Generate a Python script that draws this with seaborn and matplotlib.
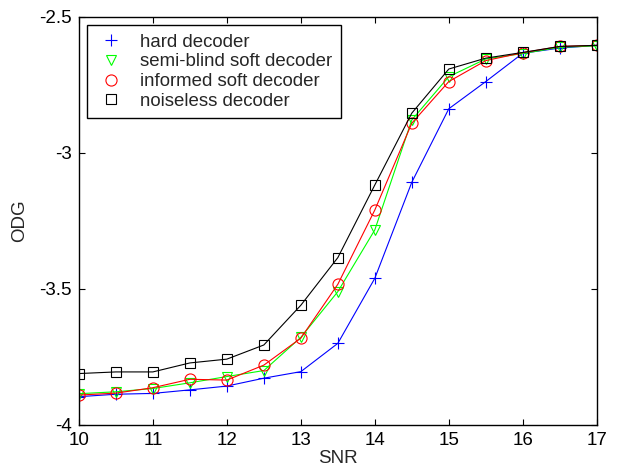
import matplotlib
matplotlib.use("Agg")
import matplotlib.pyplot as plt
import pandas as pd
import seaborn as sns
from matplotlib.lines import Line2D

# SNR values
snr = [10, 10.5, 11, 11.5, 12, 12.5, 13, 13.5, 14, 14.5, 15, 15.5, 16, 16.5, 17]

# ODG per decoder
hard = [-3.896, -3.887, -3.884, -3.871, -3.857, -3.828, -3.804, -3.700, -3.461,
        -3.108, -2.838, -2.738, -2.634, -2.615, -2.605]
semi_blind = [-3.885, -3.878, -3.866, -3.845, -3.822, -3.800, -3.678, -3.510, -3.283,
              -2.879, -2.720, -2.655, -2.635, -2.612, -2.607]
informed = [-3.890, -3.883, -3.863, -3.832, -3.835, -3.780, -3.681, -3.483, -3.210,
            -2.891, -2.738, -2.661, -2.632, -2.609, -2.605]
noiseless = [-3.811, -3.805, -3.805, -3.772, -3.758, -3.706, -3.560, -3.385, -3.118,
             -2.854, -2.692, -2.652, -2.631, -2.609, -2.605]

labels = ["hard decoder", "semi-blind soft decoder", "informed soft decoder", "noiseless decoder"]
series = [hard, semi_blind, informed, noiseless]
colors = ["#0000ff", "#00ff00", "#ff0000", "#000000"]
markers = ["+", "v", "o", "s"]
sizes = [8, 7.5, 8, 6.5]

sns.set_style("ticks")
plt.rcParams["font.family"] = ["Liberation Sans", "DejaVu Sans"]
plt.rcParams["axes.unicode_minus"] = False

fig = plt.figure(figsize=(6.21, 4.66), dpi=100)
ax = fig.add_axes([0.127, 0.088, 0.834, 0.876])

for lab, vals, col, mk, ms in zip(labels, series, colors, markers, sizes):
    df = pd.DataFrame({"SNR": snr, "ODG": vals})
    sns.lineplot(data=df, x="SNR", y="ODG", ax=ax, color=col, marker=mk,
                 markersize=ms, mfc="none", mec=col, mew=0.8, lw=0.8)

ax.set_xlim(10, 17)
ax.set_ylim(-4, -2.5)
ax.set_xticks(range(10, 18))
ax.set_yticks([-4, -3.5, -3, -2.5])
ax.set_yticklabels(["-4", "-3.5", "-3", "-2.5"])
ax.tick_params(direction="in", length=4, width=0.8, labelsize=13.5, pad=5,
               top=True, right=True, colors="black")
for sp in ax.spines.values():
    sp.set_visible(True)
    sp.set_linewidth(1.0)
    sp.set_color("black")
ax.set_xlabel("SNR", fontsize=13.5, labelpad=1)
ax.set_ylabel("ODG", fontsize=13.5, labelpad=8)

handles = [Line2D([], [], linestyle="none", marker=mk, color=col, mfc="none",
                  mec=col, markersize=ms, mew=0.8)
           for col, mk, ms in zip(colors, markers, sizes)]
leg = ax.legend(handles, labels, loc="upper left", fontsize=13.4, frameon=True,
                fancybox=False, edgecolor="black", framealpha=1,
                borderaxespad=0.45, handlelength=1.6, handletextpad=0.8,
                labelspacing=0.15, borderpad=0.45)
leg.get_frame().set_linewidth(1.0)

fig.savefig("out.png", dpi=100)
